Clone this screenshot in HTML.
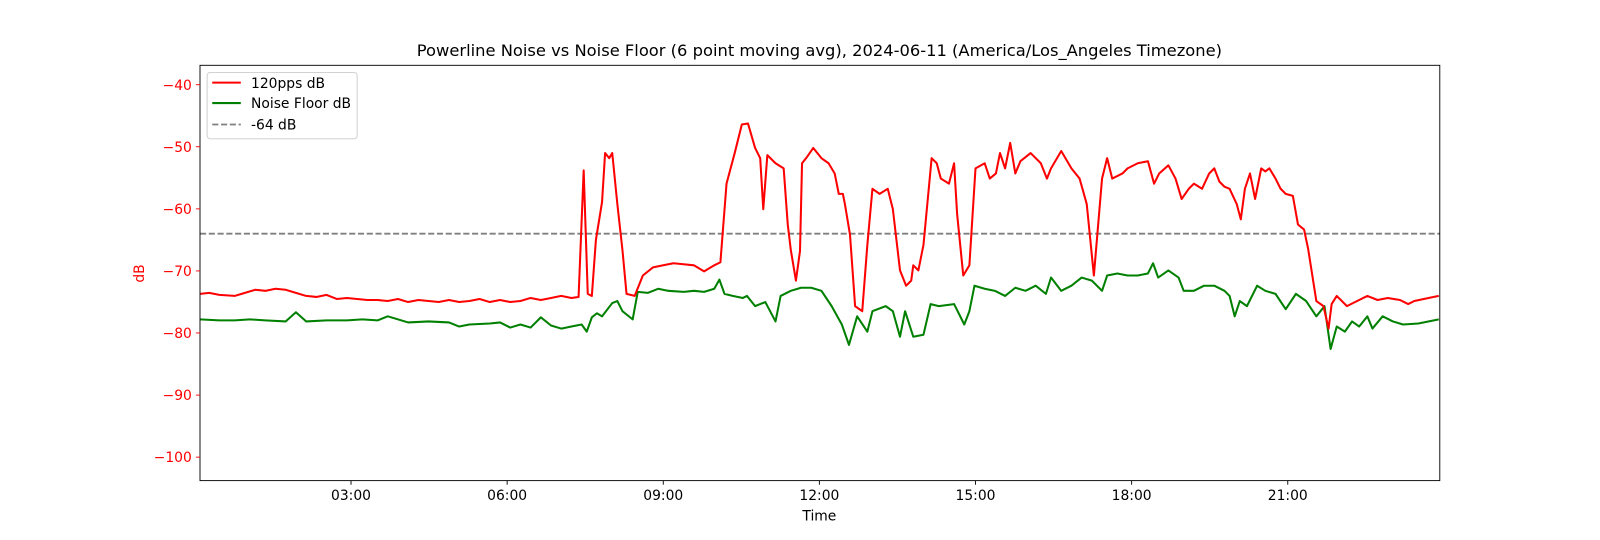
<!DOCTYPE html>
<html><head><style>body{margin:0;background:#fff}svg{display:block}text{font-family:"DejaVu Sans","Liberation Sans",sans-serif}</style></head>
<body>
<svg width="1600" height="540" viewBox="0 0 1568 529.2" xmlns="http://www.w3.org/2000/svg">
<rect width="1568" height="530" fill="#fff"/>
<text x="803" y="55" font-size="16" text-anchor="middle" fill="#000">Powerline Noise vs Noise Floor (6 point moving avg), 2024-06-11 (America/Los_Angeles Timezone)</text>
<g fill="none" stroke-linejoin="round">
<line x1="196" y1="229" x2="1411" y2="229" stroke="#808080" stroke-width="1.8" stroke-dasharray="6,2.6"/>
<polyline stroke="green" stroke-width="2" points="196,313 215,314 230,314 245,313 260,314 280,315 290,306 300,315 320,314 340,314 355,313 370,314 380,310 400,316 420,315 440,316 450,320 460,318 480,317 490,316 500,321 510,318 520,321 530,311 540,319 550,322 560,320 570,318 575,325 580,311 585,307 590,310 600,297 605,295 610,305 620,313 625,286 635,287 645,283 655,285 670,286 680,285 690,286 700,283 705,274 710,288 718,290 728,292 732,290 740,300 750,296 760,315 765,290 775,285 785,282 795,282 805,285 815,300 825,318 832,338 840,310 850,325 855,305 868,300 875,305 882,330 887,305 895,330 905,328 912,298 920,300 935,298 945,318 950,305 955,280 965,283 975,285 985,290 995,282 1005,285 1015,280 1025,288 1030,272 1040,285 1050,280 1060,272 1070,275 1080,285 1085,270 1095,268 1105,270 1115,270 1125,268 1130,258 1135,272 1145,265 1155,272 1160,285 1170,285 1180,280 1190,280 1200,285 1205,290 1210,310 1215,295 1222,300 1232,280 1240,285 1250,288 1260,303 1270,288 1280,295 1290,310 1298,300 1304,342 1310,320 1318,325 1325,315 1332,320 1340,310 1345,322 1355,310 1365,315 1375,318 1390,317 1410,313"/>
<polyline stroke="red" stroke-width="2" points="196,288 205,287 215,289 230,290 240,287 250,284 260,285 270,283 280,284 290,287 300,290 310,291 320,289 330,293 340,292 350,293 360,294 370,294 380,295 390,293 400,296 410,294 420,295 430,296 440,294 450,296 460,295 470,293 480,296 490,294 500,296 510,295 520,292 530,294 540,292 550,290 560,292 567,291 572,167 576,288 580,290 584,235 590,198 593,150 597,155 600,150 605,200 610,245 614,288 622,290 630,270 640,262 650,260 660,258 670,259 680,260 690,266 700,260 706,257 712,180 720,150 727,122 733,121 740,145 745,155 748,205 752,152 760,160 768,165 772,220 775,245 780,275 784,246 786,160 790,155 797,145 805,155 812,160 818,170 822,190 826,190 828,200 833,230 838,300 845,305 850,240 855,185 862,190 870,185 875,205 882,265 888,280 893,275 895,260 900,265 905,240 913,155 918,160 922,175 930,180 935,160 938,210 944,270 950,260 956,165 965,160 970,175 976,170 980,150 985,165 990,140 995,170 1000,158 1010,150 1020,160 1026,175 1030,165 1040,148 1050,165 1058,175 1065,200 1068,230 1072,270 1080,175 1085,155 1090,175 1100,170 1105,165 1115,160 1125,158 1131,180 1136,170 1145,162 1152,175 1158,195 1165,185 1170,180 1178,185 1185,170 1190,165 1195,178 1200,183 1205,185 1212,200 1216,215 1220,185 1225,170 1230,195 1236,165 1240,168 1244,165 1250,175 1255,185 1260,190 1267,192 1272,220 1278,225 1282,244 1290,295 1297,300 1302,322 1305,298 1310,290 1320,300 1330,295 1340,290 1350,294 1360,292 1372,294 1380,298 1386,295 1400,292 1410,290"/>
</g>
<rect x="196" y="64" width="1215" height="407" fill="none" stroke="#000" stroke-width="0.9"/>
<g stroke="red" stroke-width="0.9">
<line x1="192" y1="83" x2="196" y2="83"/><line x1="192" y1="143.8" x2="196" y2="143.8"/><line x1="192" y1="204.7" x2="196" y2="204.7"/><line x1="192" y1="265.5" x2="196" y2="265.5"/><line x1="192" y1="326.3" x2="196" y2="326.3"/><line x1="192" y1="387.2" x2="196" y2="387.2"/><line x1="192" y1="448" x2="196" y2="448"/>
</g>
<g fill="red" font-size="13.6" text-anchor="end">
<text x="188" y="88">−40</text><text x="188" y="148.8">−50</text><text x="188" y="209.7">−60</text><text x="188" y="270.5">−70</text><text x="188" y="331.3">−80</text><text x="188" y="392.2">−90</text><text x="188" y="453">−100</text>
</g>
<text transform="translate(141,268) rotate(-90)" font-size="13.6" fill="red" text-anchor="middle">dB</text>
<g stroke="#000" stroke-width="0.9">
<line x1="344" y1="471" x2="344" y2="475"/><line x1="497" y1="471" x2="497" y2="475"/><line x1="650" y1="471" x2="650" y2="475"/><line x1="803" y1="471" x2="803" y2="475"/><line x1="956" y1="471" x2="956" y2="475"/><line x1="1109" y1="471" x2="1109" y2="475"/><line x1="1262" y1="471" x2="1262" y2="475"/>
</g>
<g font-size="13.6" text-anchor="middle" fill="#000">
<text x="344" y="490">03:00</text><text x="497" y="490">06:00</text><text x="650" y="490">09:00</text><text x="803" y="490">12:00</text><text x="956" y="490">15:00</text><text x="1109" y="490">18:00</text><text x="1262" y="490">21:00</text>
<text x="803" y="510">Time</text>
</g>
<rect x="203" y="71" width="147" height="65" rx="3" fill="#fff" fill-opacity="0.8" stroke="#ccc" stroke-width="0.9"/>
<line x1="208" y1="81" x2="236" y2="81" stroke="red" stroke-width="2"/>
<line x1="208" y1="101" x2="236" y2="101" stroke="green" stroke-width="2"/>
<line x1="208" y1="122" x2="236" y2="122" stroke="#808080" stroke-width="1.8" stroke-dasharray="6,2.6"/>
<g font-size="13.6" fill="#000"><text x="246" y="86">120pps dB</text><text x="246" y="106">Noise Floor dB</text><text x="246" y="127">-64 dB</text></g>
</svg>
</body></html>
